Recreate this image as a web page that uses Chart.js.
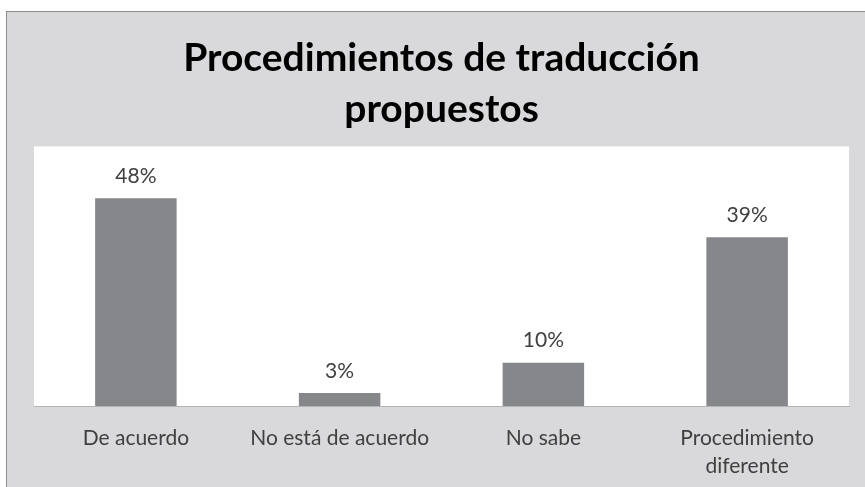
<!DOCTYPE html>
<html>
<head>
<meta charset="utf-8">
<script src="https://cdn.jsdelivr.net/npm/chart.js@4/dist/chart.umd.min.js"></script>
<style>
  html, body { margin: 0; padding: 0; background: #ffffff; }
  #frame {
    position: absolute; left: 6px; top: 11px;
    width: 859px; height: 476px;
    border-left: 1px solid #8c8c8c; border-top: 1px solid #8c8c8c;
    background: #d9d9db;
  }
  canvas { display: block; }
</style>
</head>
<body>
<div id="frame"><canvas id="myChart" width="859" height="476"></canvas></div>
<script>
// Chart data
const categories = ['De acuerdo', 'No está de acuerdo', 'No sabe', ['Procedimiento', 'diferente']]
const percentages = [48, 3, 10, 39]
const titleLines = ['Procedimientos de traducción', 'propuestos']

const FONT = 'Lato, "Open Sans", sans-serif'

// white plot area behind the bars
const plotBackground = {
  id: 'plotBackground',
  beforeDraw(chart) {
    const { ctx, chartArea: a } = chart
    ctx.save()
    ctx.fillStyle = '#ffffff'
    ctx.fillRect(a.left, a.top, a.right - a.left, a.bottom - a.top)
    ctx.restore()
  }
}

// value labels above each bar
const valueLabels = {
  id: 'valueLabels',
  afterDatasetsDraw(chart) {
    const { ctx } = chart
    const meta = chart.getDatasetMeta(0)
    ctx.save()
    ctx.font = '21px ' + FONT
    ctx.fillStyle = '#404040'
    ctx.textAlign = 'center'
    ctx.textBaseline = 'middle'
    meta.data.forEach((bar, i) => {
      ctx.fillText(percentages[i] + '%', bar.x, bar.y - 22)
    })
    ctx.restore()
  }
}

const ctx = document.getElementById('myChart')
const myChart = new Chart(ctx, {
  type: 'bar',
  data: {
    labels: categories,
    datasets: [{
      data: percentages,
      backgroundColor: '#86878a',
      borderWidth: 0,
      categoryPercentage: 1,
      barPercentage: 0.4
    }]
  },
  options: {
    responsive: false,
    animation: false,
    layout: {
      padding: { left: 27, right: 17, top: 0, bottom: 0 }
    },
    scales: {
      x: {
        grid: { display: false },
        border: { display: true, color: '#b4b4b4', width: 1 },
        afterFit(scale) { scale.height = 82 },
        ticks: {
          color: '#404040',
          padding: 10,
          maxRotation: 0,
          autoSkip: false,
          font: { family: FONT, size: 21, lineHeight: 1.35 }
        }
      },
      y: {
        display: false,
        min: 0,
        max: 60
      }
    },
    plugins: {
      legend: { display: false },
      tooltip: { enabled: false },
      title: {
        display: true,
        text: titleLines,
        color: '#000000',
        padding: { top: 21, bottom: 12 },
        font: { family: FONT, size: 39, weight: 'bold', lineHeight: 1.3 }
      }
    }
  },
  plugins: [plotBackground, valueLabels]
})
</script>
</body>
</html>
